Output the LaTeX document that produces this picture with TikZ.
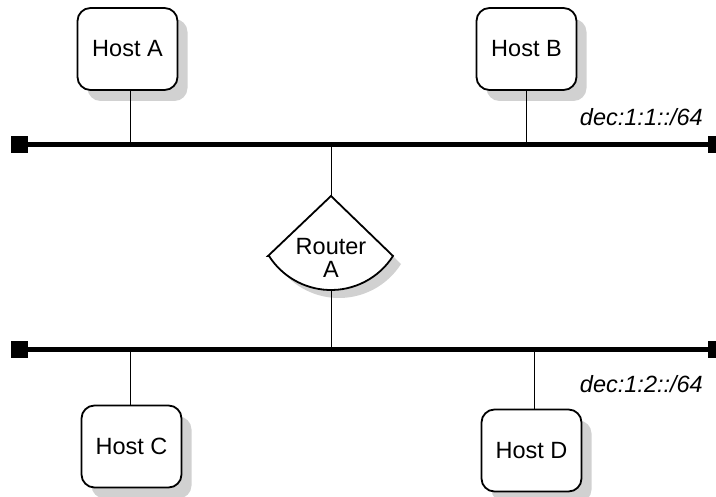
\documentclass[tikz,border=0pt]{standalone}
\usepackage{fontspec}
\setmainfont{Liberation Sans}
\usetikzlibrary{shadows}
\begin{document}
\begin{tikzpicture}[x=1pt,y=-1pt,
  host/.style={draw, line width=1.8pt, rounded corners=13pt, fill=white,
    minimum width=100pt, minimum height=82pt, inner sep=0pt,
    font=\fontsize{23.5}{25}\selectfont,
    drop shadow={shadow xshift=10pt, shadow yshift=-11pt, fill=black!18, opacity=1}},
  bus/.style={line width=5pt},
  busend/.style={fill=black, minimum size=17pt, inner sep=0pt},
  tap/.style={line width=0.9pt},
  net/.style={font=\fontsize{23.5}{25}\selectfont\itshape, inner sep=0pt},
  routertext/.style={font=\fontsize{23.5}{23}\selectfont, align=center, inner sep=0pt}
]
\useasboundingbox (0,0) rectangle (716,497);
\fill[white] (0,0) rectangle (716,497);

% buses
\node[busend] (b1L) at (19.5,144.5) {};
\node[busend] (b1R) at (716.5,144.5) {};
\node[busend] (b2L) at (19.5,350) {};
\node[busend] (b2R) at (716.5,350) {};
\draw[bus] (b1L.center) -- (b1R.center);
\draw[bus] (b2L.center) -- (b2R.center);

\coordinate (tA) at (130,144.5);
\coordinate (tB) at (526,144.5);
\coordinate (tR1) at (331,144.5);
\coordinate (tR2) at (331,350);
\coordinate (tC) at (130,350);
\coordinate (tD) at (534,350);

% hosts
\node[host] (hostA) at (127.5,49) {\raisebox{-5pt}{Host A}};
\node[host] (hostB) at (526.5,49) {\raisebox{-5pt}{Host B}};
\node[host] (hostC) at (131.5,446.5) {\raisebox{-5pt}{Host C}};
\node[host] (hostD) at (531.5,450.5) {\raisebox{-5pt}{Host D}};

\draw[tap] (tA) -- (tA |- hostA.south);
\draw[tap] (tB) -- (tB |- hostB.south);
\draw[tap] (tC) -- (tC |- hostC.north);
\draw[tap] (tD) -- (tD |- hostD.north);

% router
\coordinate (rTop) at (331,196);
\coordinate (rBot) at (331,290);
\fill[black!18, shift={(8,8)}] (268,256) -- (331,196) -- (393,256)
   arc[start angle=32.5, end angle=147.5, radius=73.5] -- cycle;
\draw[line width=1.8pt, fill=white, line join=miter] (268,256) -- (rTop) -- (393,256)
   arc[start angle=32.5, end angle=147.5, radius=73.5] -- cycle;
\node[routertext] (router) at (331,258) {Router\\A};
\draw[tap] (tR1) -- (rTop);
\draw[tap] (rBot) -- (tR2);

% network labels
\node[net, anchor=east] (n1) at (703,117) {dec:1:1::/64};
\node[net, anchor=east] (n2) at (703,384) {dec:1:2::/64};
\end{tikzpicture}
\end{document}
